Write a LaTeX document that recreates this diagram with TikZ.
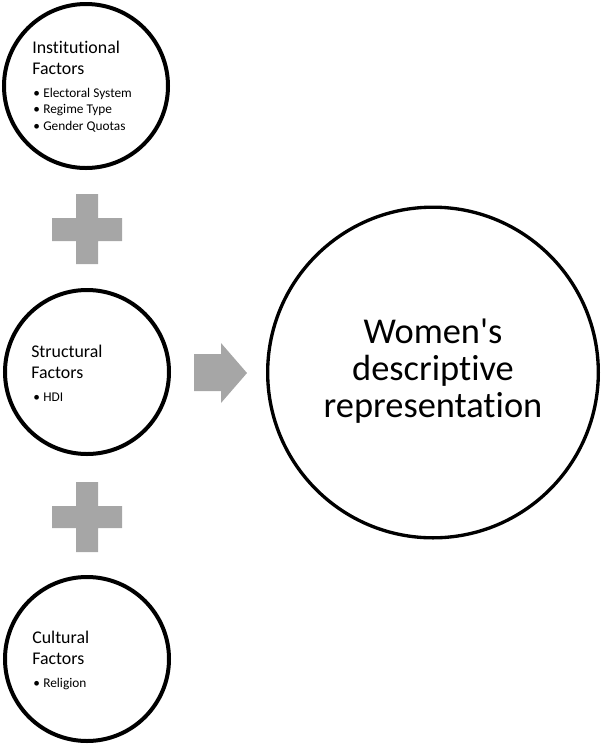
\documentclass[tikz,border=0pt]{standalone}
\usepackage{fontspec}
\setmainfont{Carlito}[Ligatures={TeXOff,NoCommon}]
\definecolor{shapegray}{RGB}{166,166,166}
\tikzset{
  factor/.style={circle, draw=black, line width=3pt, minimum size=123pt, inner sep=0pt},
  result/.style={circle, draw=black, line width=2.5pt, minimum size=248pt, inner sep=0pt},
  headtxt/.style={anchor=base west, inner sep=0pt, font=\fontsize{13.4}{16}\selectfont},
  itemtxt/.style={anchor=base west, inner sep=0pt, font=\fontsize{10}{12}\selectfont},
  bigtxt/.style={anchor=base, inner sep=0pt, font=\fontsize{27.3}{32}\selectfont},
  plusshape/.style={fill=shapegray, draw=none},
}
\begin{document}
\begin{tikzpicture}[x=0.75pt,y=-0.75pt]
\useasboundingbox (0,0) rectangle (602,744);
% circles
\node[factor] (inst) at (86,86) {};
\node[factor] (struct) at (87,372) {};
\node[factor] (cult) at (87,659) {};
\node[result] (women) at (433,372.5) {};
% institutional text
\node[headtxt] (i1) at (32,53) {Institutional};
\node[headtxt] (i2) at (32,74) {Factors};
\node[itemtxt] (ib1) at (33,97) {•};
\node[itemtxt] (it1) at (43,97) {Electoral System};
\node[itemtxt] (ib2) at (33,113.5) {•};
\node[itemtxt] (it2) at (43,113.5) {Regime Type};
\node[itemtxt] (ib3) at (33,130) {•};
\node[itemtxt] (it3) at (43,130) {Gender Quotas};
% structural text
\node[headtxt] (s1) at (31,357) {Structural};
\node[headtxt] (s2) at (31,378) {Factors};
\node[itemtxt] (sb1) at (33,401) {•};
\node[itemtxt] (st1) at (43,401) {HDI};
% cultural text
\node[headtxt] (c1) at (32,643) {Cultural};
\node[headtxt] (c2) at (32,664) {Factors};
\node[itemtxt] (cb1) at (33,687) {•};
\node[itemtxt] (ct1) at (43,687) {Religion};
% result text
\node[bigtxt] (w1) at (433,343) {Women's};
\node[bigtxt] (w2) at (433,380) {descriptive};
\node[bigtxt] (w3) at (433,417) {representation};
% plus signs
\fill[plusshape] (76,194) -- (98,194) -- (98,218) -- (122,218) -- (122,241) -- (98,241) -- (98,264) -- (76,264) -- (76,241) -- (52,241) -- (52,218) -- (76,218) -- cycle;
\fill[plusshape] (76,482) -- (98,482) -- (98,506) -- (122,506) -- (122,528) -- (98,528) -- (98,552) -- (76,552) -- (76,528) -- (52,528) -- (52,506) -- (76,506) -- cycle;
% arrow
\fill[plusshape] (194,354) -- (221,354) -- (221,343) -- (247,373) -- (221,403) -- (221,391) -- (194,391) -- cycle;
\end{tikzpicture}
\end{document}
